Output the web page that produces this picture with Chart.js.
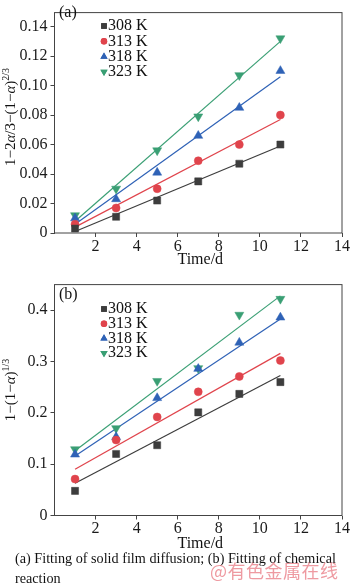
<!DOCTYPE html>
<html><head><meta charset="utf-8">
<script src="https://cdn.jsdelivr.net/npm/chart.js@4.4.0/dist/chart.umd.min.js"></script>
<style>
html,body{margin:0;padding:0;background:#fff;width:350px;height:586px;overflow:hidden;position:relative}
#wa{position:absolute;left:0;top:0;width:350px;height:272px}
#wb{position:absolute;left:0;top:272px;width:350px;height:280px}
#cap{position:absolute;left:15px;top:548px;font:14.2px "Liberation Serif";line-height:20px;color:#111;width:335px}
#wm{position:absolute;left:210px;top:557px;font:18px "Noto Sans CJK SC";letter-spacing:0.5px;color:rgba(232,120,130,0.75)}
</style></head>
<body>
<div id="wa"><canvas id="ca" width="350" height="272"></canvas></div>
<div id="wb"><canvas id="cb" width="350" height="280"></canvas></div>
<div id="cap">(a) Fitting of solid film diffusion; (b) Fitting of chemical reaction</div>
<div id="wm">@有色金属在线</div>
<script>
// ---- data ----
const timeDays = [1, 3, 5, 7, 9, 11];
const seriesLabels = ['308 K', '313 K', '318 K', '323 K'];
const a308 = [0.003, 0.011, 0.022, 0.035, 0.047, 0.060];
const a313 = [0.006, 0.017, 0.030, 0.049, 0.060, 0.080];
const a318 = [0.010, 0.023, 0.041, 0.066, 0.085, 0.110];
const a323 = [0.012, 0.030, 0.056, 0.079, 0.107, 0.132];
const fitX = [1, 11];
const aFit308 = [0.001, 0.059];
const aFit313 = [0.004, 0.077];
const aFit318 = [0.006, 0.106];
const aFit323 = [0.008, 0.130];
const b308 = [0.048, 0.120, 0.137, 0.201, 0.237, 0.260];
const b313 = [0.071, 0.147, 0.192, 0.241, 0.271, 0.302];
const b318 = [0.119, 0.153, 0.229, 0.286, 0.337, 0.386];
const b323 = [0.129, 0.170, 0.262, 0.287, 0.391, 0.422];
const bFit308 = [0.063, 0.273];
const bFit313 = [0.090, 0.316];
const bFit318 = [0.116, 0.383];
const bFit323 = [0.126, 0.428];
const xTicks = [2, 4, 6, 8, 10, 12, 14];
const xTickLabels = ['2', '4', '6', '8', '10', '12', '14'];
const aYTicks = [0, 0.02, 0.04, 0.06, 0.08, 0.10, 0.12, 0.14];
const aYTickLabels = ['0', '0.02', '0.04', '0.06', '0.08', '0.10', '0.12', '0.14'];
const bYTicks = [0, 0.1, 0.2, 0.3, 0.4];
const bYTickLabels = ['0', '0.1', '0.2', '0.3', '0.4'];

// ---- styles ----
const COLORS = ['#3d3d3d', '#e0444c', '#2f62b6', '#3a9f74'];
const MARK = [
  {style: 'rect', r: 5, rot: 0},
  {style: 'circle', r: 4, rot: 0},
  {style: 'triangle', r: 5.2, rot: 0},
  {style: 'triangle', r: 5.2, rot: 180}
];
const SERIF = '"Liberation Serif", "Times New Roman", serif';

function toXY(xs, ys) { return xs.map((x, i) => ({x: x, y: ys[i]})); }

function buildDatasets(points, fits) {
  const ds = [];
  fits.forEach((f, i) => ds.push({
    data: toXY(fitX, f), showLine: true, pointRadius: 0, borderColor: COLORS[i],
    borderWidth: 1.2, fill: false, order: 2
  }));
  points.forEach((p, i) => ds.push({
    data: toXY(timeDays, p), showLine: false, pointStyle: MARK[i].style,
    pointRadius: MARK[i].r, pointRotation: MARK[i].rot,
    backgroundColor: COLORS[i], borderColor: COLORS[i], pointBorderWidth: 0.5, order: 1
  }));
  return ds;
}

const deco = {
  id: 'deco',
  afterDraw(chart, args, o) {
    const ctx = chart.ctx, ca = chart.chartArea;
    ctx.save();
    ctx.strokeStyle = '#444'; ctx.lineWidth = 1;
    ctx.strokeRect(ca.left, ca.top, ca.right - ca.left, ca.bottom - ca.top);
    // panel label
    ctx.fillStyle = '#111';
    ctx.font = '16px ' + SERIF;
    ctx.textBaseline = 'middle'; ctx.textAlign = 'left';
    ctx.fillText(o.panel, 59, o.panelY);
    // legend
    seriesLabels.forEach((lab, i) => {
      const y = o.legY + i * o.legStep;
      ctx.fillStyle = COLORS[i];
      ctx.beginPath();
      Chart.helpers.drawPoint(ctx, {pointStyle: MARK[i].style, radius: MARK[i].r * 0.8, rotation: MARK[i].rot, borderWidth: 0}, 104, y);
      ctx.fill();
      ctx.fillStyle = '#111';
      ctx.font = '16px ' + SERIF;
      ctx.fillText(lab, 108, y);
    });
    // x title
    ctx.textAlign = 'center';
    ctx.font = '16px ' + SERIF;
    ctx.fillText('Time/d', (ca.left + ca.right) / 2 + 2, o.xTitleY);
    // y title with italic alpha and superscript
    const segs = o.ySegs;
    ctx.translate(o.yTitleX, o.yTitleY);
    ctx.rotate(-Math.PI / 2);
    ctx.textBaseline = 'alphabetic'; ctx.textAlign = 'left';
    let w = 0;
    segs.forEach(s => { ctx.font = s.f; w += ctx.measureText(s.t).width; });
    let x = -w / 2;
    segs.forEach(s => { ctx.font = s.f; ctx.fillText(s.t, x, s.dy || 0); x += ctx.measureText(s.t).width; });
    ctx.restore();
  }
};

function makeChart(id, points, fits, yMax, yTicks, yLabels, padTop, xH, deco_opts) {
  return new Chart(document.getElementById(id), {
    type: 'scatter',
    data: {datasets: buildDatasets(points, fits)},
    plugins: [deco],
    options: {
      responsive: false, animation: false, devicePixelRatio: 1,
      layout: {padding: {top: padTop, right: 7, left: 0, bottom: 0}},
      plugins: {legend: {display: false}, tooltip: {enabled: false}, deco: deco_opts},
      scales: {
        x: {
          type: 'linear', min: 0, max: 14,
          afterBuildTicks: s => { s.ticks = xTicks.map(v => ({value: v})); },
          afterFit: s => { s.height = xH; },
          grid: {drawOnChartArea: false, drawTicks: true, tickLength: 4, color: '#444'},
          border: {display: false},
          ticks: {font: {family: SERIF, size: 16}, color: '#1a1a1a', padding: 0, maxRotation: 0, autoSkip: false,
            callback: (v, i) => xTickLabels[i]}
        },
        y: {
          type: 'linear', min: 0, max: yMax,
          afterBuildTicks: s => { s.ticks = yTicks.map(v => ({value: v})); },
          afterFit: s => { s.width = 54.5; },
          grid: {drawOnChartArea: false, drawTicks: true, tickLength: 4, color: '#444'},
          border: {display: false},
          ticks: {font: {family: SERIF, size: 16}, color: '#1a1a1a', padding: 3, autoSkip: false,
            callback: (v, i) => yLabels[i]}
        }
      }
    }
  });
}

const F = '15px ' + SERIF, FI = 'italic 15px ' + SERIF, FS = '10px ' + SERIF;
makeChart('ca', [a308, a313, a318, a323], [aFit308, aFit313, aFit318, aFit323], 0.1495, aYTicks, aYTickLabels, 1, 39, {
  panel: '(a)', panelY: 13, legY: 26, legStep: 15.3, xTitleY: 260,
  yTitleX: 15, yTitleY: 117,
  ySegs: [{t: '1\u22122', f: F}, {t: '\u03b1', f: FI}, {t: '/3\u2212(1\u2212', f: F}, {t: '\u03b1', f: FI}, {t: ')', f: F}, {t: '2/3', f: FS, dy: -6}]
});
makeChart('cb', [b308, b313, b318, b323], [bFit308, bFit313, bFit318, bFit323], 0.45, bYTicks, bYTickLabels, 11, 36.5, {
  panel: '(b)', panelY: 23, legY: 37, legStep: 14.7, xTitleY: 272,
  yTitleX: 15, yTitleY: 118,
  ySegs: [{t: '1\u2212(1\u2212', f: F}, {t: '\u03b1', f: FI}, {t: ')', f: F}, {t: '1/3', f: FS, dy: -6}]
});
</script>
</body></html>
